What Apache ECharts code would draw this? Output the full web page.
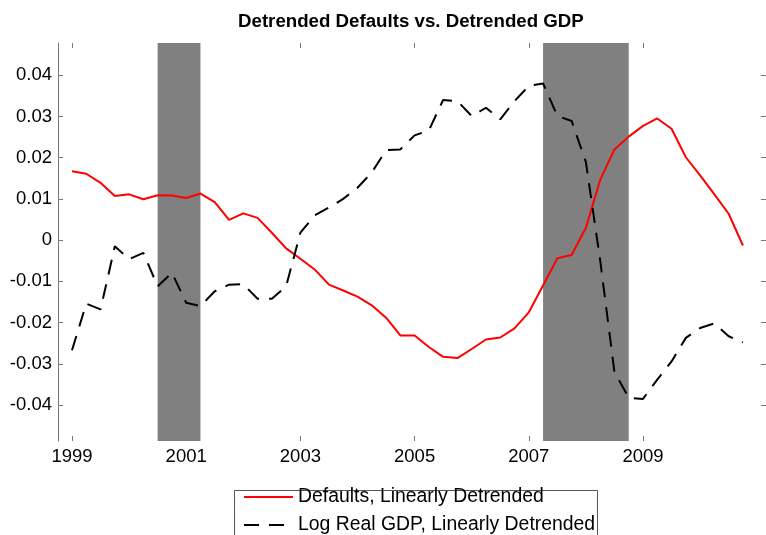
<!DOCTYPE html>
<html><head><meta charset="utf-8">
<script src="https://cdn.jsdelivr.net/npm/echarts@6/dist/echarts.min.js"></script>
<style>html,body{margin:0;padding:0;background:#fff}#c{width:766px;height:535px}</style>
</head><body><div id="c"></div>
<script>
const chartTitle = 'Detrended Defaults vs. Detrended GDP';
const seriesNames = ['Defaults, Linearly Detrended', 'Log Real GDP, Linearly Detrended'];
const quarters = [
  1999.00, 1999.25, 1999.50, 1999.75, 2000.00, 2000.25, 2000.50, 2000.75,
  2001.00, 2001.25, 2001.50, 2001.75, 2002.00, 2002.25, 2002.50, 2002.75,
  2003.00, 2003.25, 2003.50, 2003.75, 2004.00, 2004.25, 2004.50, 2004.75,
  2005.00, 2005.25, 2005.50, 2005.75, 2006.00, 2006.25, 2006.50, 2006.75,
  2007.00, 2007.25, 2007.50, 2007.75, 2008.00, 2008.25, 2008.50, 2008.75,
  2009.00, 2009.25, 2009.50, 2009.75, 2010.00, 2010.25, 2010.50, 2010.75
];
const defaults = [
  0.0167, 0.0161, 0.0139, 0.0107, 0.0111, 0.0099, 0.0109, 0.0108,
  0.0102, 0.0113, 0.0092, 0.0049, 0.0065, 0.0054, 0.0018, -0.0020,
  -0.0045, -0.0071, -0.0108, -0.0122, -0.0137, -0.0158, -0.0188, -0.0231,
  -0.0231, -0.0259, -0.0283, -0.0286, -0.0264, -0.0241, -0.0236, -0.0214,
  -0.0175, -0.0110, -0.0044, -0.0036, 0.0030, 0.0146, 0.0220, 0.0251,
  0.0277, 0.0295, 0.0270, 0.0201, 0.0157, 0.0111, 0.0064, -0.0013
];
const gdp = [
  -0.0267, -0.0154, -0.0168, -0.0015, -0.0046, -0.0031, -0.0112, -0.0079,
  -0.0152, -0.0160, -0.0124, -0.0108, -0.0107, -0.0142, -0.0142, -0.0112,
  0.0018, 0.0060, 0.0079, 0.0100, 0.0127, 0.0164, 0.0218, 0.0220,
  0.0254, 0.0266, 0.0340, 0.0337, 0.0301, 0.0321, 0.0293, 0.0337,
  0.0374, 0.0380, 0.0301, 0.0289, 0.0189, -0.0049, -0.0320, -0.0382,
  -0.0385, -0.0338, -0.0294, -0.0237, -0.0213, -0.0202, -0.0233, -0.0248
];
const recessionStarts = [2000.5, 2007.25];
const recessionEnds = [2001.25, 2008.75];
const xTicks = [1999, 2001, 2003, 2005, 2007, 2009];
const yTicks = [-0.04, -0.03, -0.02, -0.01, 0, 0.01, 0.02, 0.03, 0.04];

const FONT = 'Liberation Sans, Arial, sans-serif';
const chart = echarts.init(document.getElementById('c'));
const tickStyle = {color: '#777', width: 1};
const xBase = {
  type: 'value', min: 1998.755, max: 2011.154, splitLine: {show: false},
  axisLine: {show: false, onZero: false}
};
const yBase = {
  type: 'value', min: -0.0487, max: 0.0478, splitLine: {show: false}
};
const legendText = {fontFamily: FONT, fontSize: 19.4, color: '#000', lineHeight: 20};
const legendCommon = {
  orient: 'horizontal', left: 234, padding: [0, 0, 0, 9],
  itemWidth: 49, itemHeight: 14, itemGap: 0,
  itemStyle: {opacity: 0}, textStyle: legendText, z: 5
};
chart.setOption({
  animation: false,
  backgroundColor: '#fff',
  title: {
    text: chartTitle, left: 233, top: 7,
    textStyle: {fontFamily: FONT, fontSize: 18.7, fontWeight: 'bold', color: '#000'}
  },
  grid: {left: 58, top: 43, right: 0, height: 398},
  graphic: [{
    type: 'rect', x: 234.5, y: 490.5, z: 1,
    shape: {x: 0, y: 0, width: 363, height: 60},
    style: {fill: '#fff', stroke: '#555', lineWidth: 1}
  }],
  legend: [
    Object.assign({}, legendCommon, {top: 487, data: [seriesNames[0]]}),
    Object.assign({}, legendCommon, {top: 515, data: [seriesNames[1]]})
  ],
  xAxis: [
    Object.assign({}, xBase, {
      position: 'bottom',
      axisTick: {inside: true, length: 5, customValues: xTicks, lineStyle: tickStyle},
      axisLabel: {customValues: xTicks, fontFamily: FONT, fontSize: 18.5, color: '#000', margin: 6,
        formatter: v => String(Math.round(v))}
    }),
    Object.assign({}, xBase, {
      position: 'top',
      axisTick: {inside: true, length: 5, customValues: xTicks, lineStyle: tickStyle},
      axisLabel: {show: false}
    })
  ],
  yAxis: [
    Object.assign({}, yBase, {
      position: 'left',
      axisLine: {show: true, onZero: false, lineStyle: {color: '#777', width: 1}},
      axisTick: {inside: true, length: 5, customValues: yTicks, lineStyle: tickStyle},
      axisLabel: {
        customValues: yTicks, fontFamily: FONT, fontSize: 18.5, color: '#000', margin: 6,
        formatter: v => (Math.abs(v) < 1e-9 ? '0' : v.toFixed(2))
      }
    }),
    Object.assign({}, yBase, {
      position: 'right',
      axisLine: {show: false, onZero: false},
      axisTick: {inside: true, length: 5, customValues: yTicks, lineStyle: tickStyle},
      axisLabel: {show: false}
    })
  ],
  series: [
    {
      name: 'recessions', type: 'line', data: [], z: 1, silent: true,
      markArea: {
        silent: true,
        itemStyle: {color: '#808080', opacity: 1},
        data: recessionStarts.map((s, i) => [{xAxis: s}, {xAxis: recessionEnds[i]}])
      }
    },
    {
      name: seriesNames[0], type: 'line', z: 3, symbol: 'none',
      data: quarters.map((q, i) => [q, defaults[i]]),
      lineStyle: {color: '#ff0000', width: 2}, itemStyle: {color: '#ff0000'}
    },
    {
      name: seriesNames[1], type: 'line', z: 3, symbol: 'none',
      data: quarters.map((q, i) => [q, gdp[i]]),
      lineStyle: {color: '#000', width: 2, type: [15, 10]}, itemStyle: {color: '#000'}
    }
  ]
});
</script>
</body></html>
